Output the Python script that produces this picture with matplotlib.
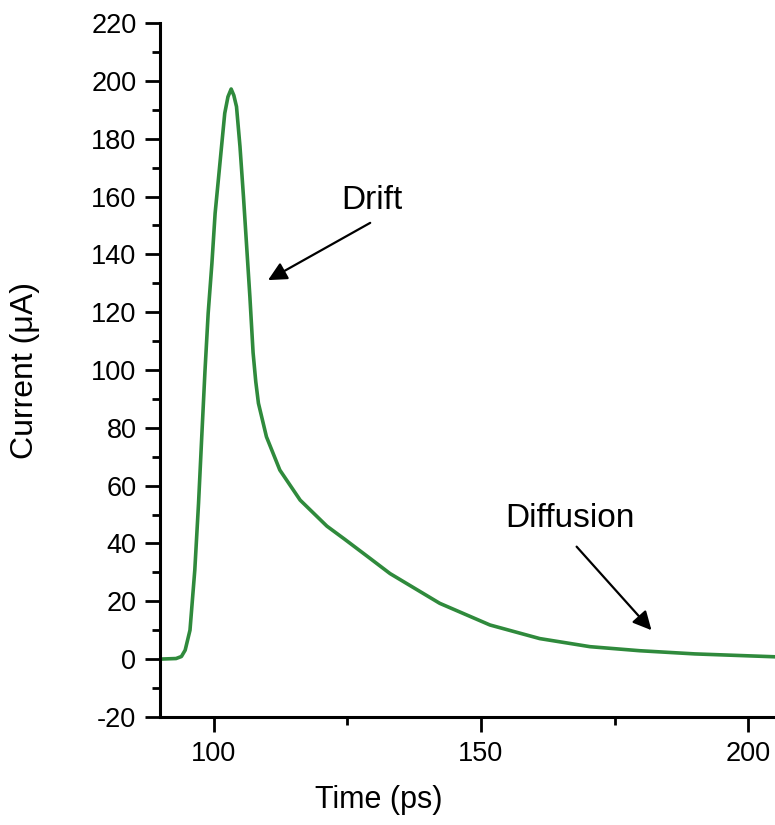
import numpy as np
import matplotlib.pyplot as plt
from matplotlib.ticker import MultipleLocator

plt.rcParams['font.family'] = ['Liberation Sans', 'DejaVu Sans']
plt.rcParams['axes.unicode_minus'] = False

# current pulse
time_ps = [90, 93, 94, 94.7, 95.6, 96.5, 97.2, 97.8, 98.4, 99.0, 99.7, 100.3, 100.9,
           101.5, 102.1, 102.7, 103.3, 103.8, 104.3, 104.95, 105.6, 106.2, 106.8,
           107.4, 107.9, 108.4, 109.9, 112.4, 116.2, 121.2, 124.5, 129.3, 133,
           142.3, 151.7, 161, 170.4, 179.7, 190, 205]
current_ua = [0, 0.2, 0.9, 3.1, 10, 30.8, 53.9, 76.9, 99.5, 119.6, 136.9, 154.2, 165.7,
              177.3, 188.8, 194.5, 197.2, 195, 191.1, 177.3, 160, 142.7, 125.4,
              106, 96, 88.5, 76.9, 65.4, 55, 46, 41.5, 34.8, 29.6,
              19.3, 11.8, 7.1, 4.3, 2.9, 1.8, 0.8]

# annotation anchors (text pos, arrow tail, arrow tip)
drift_txt, drift_tail, drift_tip = (129.6, 158.8), (129.3, 150.9), (110.2, 131.1)
diff_txt, diff_tail, diff_tip = (166.6, 48.8), (167.9, 38.9), (181.9, 10.0)

fig = plt.figure(figsize=(7.75, 8.25), dpi=100)
ax = fig.add_axes([0.2065, 0.131, 0.7935, 0.841])

ax.plot(time_ps, current_ua, color='#2f8a3c', lw=2.6, solid_joinstyle='round')

ax.set_xlim(90, 205)
ax.set_ylim(-20, 220)
ax.xaxis.set_major_locator(MultipleLocator(50))
ax.xaxis.set_minor_locator(MultipleLocator(25))
ax.yaxis.set_major_locator(MultipleLocator(20))
ax.yaxis.set_minor_locator(MultipleLocator(10))

for s in ['top', 'right']:
    ax.spines[s].set_visible(False)
for s in ['left', 'bottom']:
    ax.spines[s].set_linewidth(2.2)

ax.tick_params(which='major', direction='out', length=11, width=2, labelsize=19.5, pad=6)
ax.tick_params(which='minor', direction='out', length=6, width=2)

ax.set_xlabel('Time (ps)', fontsize=22)
ax.xaxis.set_label_coords(0.356, -0.098)
ax.set_ylabel('Current (μA)', fontsize=23)
ax.yaxis.set_label_coords(-0.195, 0.5)

arrow = dict(arrowstyle='-|>', color='black', lw=1.6, mutation_scale=28,
             shrinkA=0, shrinkB=0)
ax.text(*drift_txt, 'Drift', fontsize=24, ha='center', va='center')
ax.annotate('', xy=drift_tip, xytext=drift_tail, arrowprops=arrow)
ax.text(*diff_txt, 'Diffusion', fontsize=24, ha='center', va='center')
ax.annotate('', xy=diff_tip, xytext=diff_tail, arrowprops=arrow)

fig.savefig('out.png', dpi=100)
